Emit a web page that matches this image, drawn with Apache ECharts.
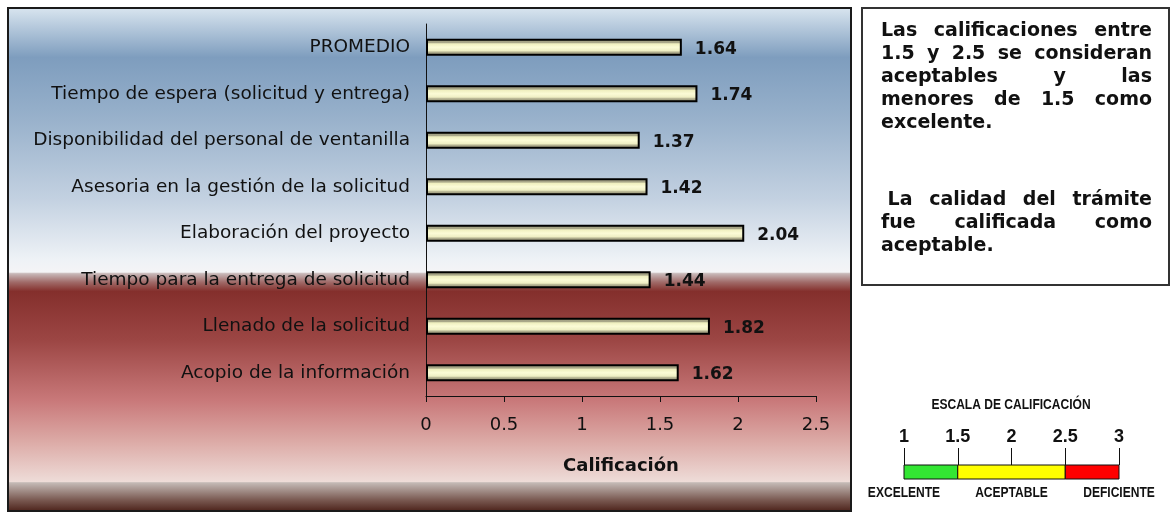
<!DOCTYPE html>
<html>
<head>
<meta charset="utf-8">
<script src="https://cdn.jsdelivr.net/npm/echarts@6/dist/echarts.min.js"></script>
<style>
  html, body { margin: 0; padding: 0; background: #fff; }
  #chart { width: 1171px; height: 513px; }
</style>
</head>
<body>
<div id="chart"></div>
<script>
// datos de la gráfica
var categories = [
  'PROMEDIO',
  'Tiempo de espera (solicitud y entrega)',
  'Disponibilidad del personal de ventanilla',
  'Asesoria en la gestión de la solicitud',
  'Elaboración del proyecto',
  'Tiempo para la entrega de solicitud',
  'Llenado de la solicitud',
  'Acopio de la información'
]
var values = [1.64, 1.74, 1.37, 1.42, 2.04, 1.44, 1.82, 1.62]

// escala de calificación: [inicio, fin, posición de la etiqueta]
var scaleRanges = [[1, 1.5, 1], [1.5, 2.5, 2], [2.5, 3, 3]]
var scaleNames = ['EXCELENTE', 'ACEPTABLE', 'DEFICIENTE']
var scaleColors = ['#33e633', '#ffff00', '#ff0000']

var noteA = ['Las calificaciones entre', '1.5 y 2.5 se  consideran', 'aceptables y las', 'menores de 1.5 como', 'excelente.']
var noteB = [' La calidad del trámite', 'fue calificada como', 'aceptable.']

var WIDE = '"DejaVu Sans", Verdana, sans-serif'
var FONT = '"Liberation Sans", Arial, sans-serif'
var NOTE_FONT = 'bold 19px ' + WIDE

var ctx = document.createElement('canvas').getContext('2d')
ctx.font = NOTE_FONT
function w(t) { return ctx.measureText(t).width }

/**
 * texto justificado del recuadro: primera palabra a la izquierda,
 * última a la derecha, las demás centradas en su hueco
 */
function noteLine(line, y, last) {
  var left = 881, right = 1152
  var indent = 0
  if (line.charAt(0) === ' ') { indent = w(' '); line = line.trim() }
  var words = line.split(/\s+/)
  var total = 0
  words.forEach(function (s) { total += w(s) })
  var justify = !last && words.length > 1
  var gap = justify ? Math.max((right - left - indent - total) / (words.length - 1), w(' ') * 0.6) : w(' ')
  var x = left + indent
  return words.map(function (s, i) {
    var ww = w(s)
    var pos = x, align = 'left'
    if (justify && i === words.length - 1) { pos = right; align = 'right' }
    else if (justify && i > 0) { pos = x + ww / 2; align = 'center' }
    x += ww + gap
    return {
      type: 'text', x: pos, y: y, silent: true,
      style: { text: s, font: NOTE_FONT, fill: '#111', textAlign: align, textVerticalAlign: 'middle' }
    }
  })
}

var graphics = [{
  type: 'rect', z: -10, silent: true,
  shape: { x: 8, y: 8, width: 843, height: 503 },
  style: {
    fill: new echarts.graphic.LinearGradient(0, 0, 0, 1, [
      { offset: 0, color: '#dae6f0' },
      { offset: 0.10, color: '#7e9dbe' },
      { offset: 0.22, color: '#98b1cb' },
      { offset: 0.38, color: '#c3d1e1' },
      { offset: 0.50, color: '#eef2f6' },
      { offset: 0.525, color: '#f4f4f6' },
      { offset: 0.528, color: '#c8b8b8' },
      { offset: 0.545, color: '#a06a68' },
      { offset: 0.563, color: '#842f2c' },
      { offset: 0.66, color: '#9c4644' },
      { offset: 0.78, color: '#c9797a' },
      { offset: 0.86, color: '#dcaaa6' },
      { offset: 0.94, color: '#eedcd8' },
      { offset: 0.942, color: '#c4bab6' },
      { offset: 0.976, color: '#7a5a52' },
      { offset: 1, color: '#4a2018' }
    ]),
    stroke: '#1a1a1a', lineWidth: 2
  }
}, {
  type: 'rect', z: -10, silent: true,
  shape: { x: 862, y: 8, width: 307, height: 277 },
  style: { fill: '#fff', stroke: '#333', lineWidth: 2 }
}, {
  type: 'text', x: 1011, y: 405, scaleX: 0.86, silent: true,
  style: { text: 'ESCALA DE CALIFICACIÓN', font: 'bold 14px ' + FONT, fill: '#111', textAlign: 'center', textVerticalAlign: 'middle' }
}]
noteA.forEach(function (l, i) { graphics = graphics.concat(noteLine(l, 31 + i * 23, i === noteA.length - 1)) })
noteB.forEach(function (l, i) { graphics = graphics.concat(noteLine(l, 200 + i * 23, i === noteB.length - 1)) })

var myChart = echarts.init(document.getElementById('chart'))
var option = {
  animation: false,
  graphic: graphics,
  grid: [
    { left: 426, width: 390, top: 24, height: 372 },
    { left: 904, width: 215, top: 465, height: 14 }
  ],
  xAxis: [{
    type: 'value', min: 0, max: 2.5, interval: 0.5,
    name: 'Calificación', nameLocation: 'middle', nameGap: 61,
    nameTextStyle: { fontFamily: WIDE, fontWeight: 'bold', fontSize: 18, color: '#111' },
    axisLine: { show: true, lineStyle: { color: '#111', width: 1 } },
    axisTick: { show: true, length: 6, lineStyle: { color: '#111' } },
    axisLabel: { fontFamily: WIDE, fontSize: 18, color: '#111', margin: 20 },
    splitLine: { show: false }
  }, {
    gridIndex: 1, type: 'value', min: 1, max: 3, interval: 0.5, position: 'top',
    axisLine: { show: false },
    axisTick: { show: true, length: 17, lineStyle: { color: '#111' } },
    axisLabel: { fontFamily: FONT, fontWeight: 'bold', fontSize: 18, color: '#111', margin: 19 },
    splitLine: { show: false }
  }],
  yAxis: [{
    type: 'category', data: categories, inverse: true,
    axisLine: { show: true, lineStyle: { color: '#111', width: 1 } },
    axisTick: { show: false },
    axisLabel: { fontFamily: WIDE, fontSize: 18.5, color: '#111', margin: 16 }
  }, {
    gridIndex: 1, type: 'category', data: ['escala'], show: false
  }],
  series: [{
    name: 'Calificación',
    type: 'bar',
    data: values,
    barWidth: 17,
    itemStyle: {
      color: new echarts.graphic.LinearGradient(0, 0, 0, 1, [
        { offset: 0, color: '#9e9c7e' },
        { offset: 0.22, color: '#a8a688' },
        { offset: 0.3, color: '#efefbf' },
        { offset: 0.5, color: '#fbfbd6' },
        { offset: 0.7, color: '#efefc4' },
        { offset: 0.8, color: '#aeac8c' },
        { offset: 1, color: '#9c9a7c' }
      ]),
      borderColor: '#000',
      borderWidth: 2
    },
    label: {
      show: true, position: 'right', distance: 13, offset: [0, 2],
      fontFamily: WIDE, fontWeight: 'bold', fontSize: 17, color: '#111',
      formatter: function (p) { return p.value.toFixed(2) }
    }
  }, {
    type: 'custom',
    xAxisIndex: 1, yAxisIndex: 1,
    data: scaleRanges,
    renderItem: function (params, api) {
      var p0 = api.coord([api.value(0), 0])
      var p1 = api.coord([api.value(1), 0])
      var pl = api.coord([api.value(2), 0])
      var h = api.size([0, 1])[1]
      return {
        type: 'group',
        children: [{
          type: 'rect',
          shape: { x: p0[0], y: p0[1] - h / 2, width: p1[0] - p0[0], height: h },
          style: { fill: scaleColors[params.dataIndex], stroke: '#111', lineWidth: 1 }
        }, {
          type: 'text',
          x: pl[0], y: p0[1] + h / 2 + 14, scaleX: 0.86,
          style: { text: scaleNames[params.dataIndex], font: 'bold 14px ' + FONT, fill: '#111', textAlign: 'center', textVerticalAlign: 'middle' }
        }]
      }
    }
  }]
}
myChart.setOption(option)
window.addEventListener('resize', function () {
  myChart.resize()
})
</script>
</body>
</html>
